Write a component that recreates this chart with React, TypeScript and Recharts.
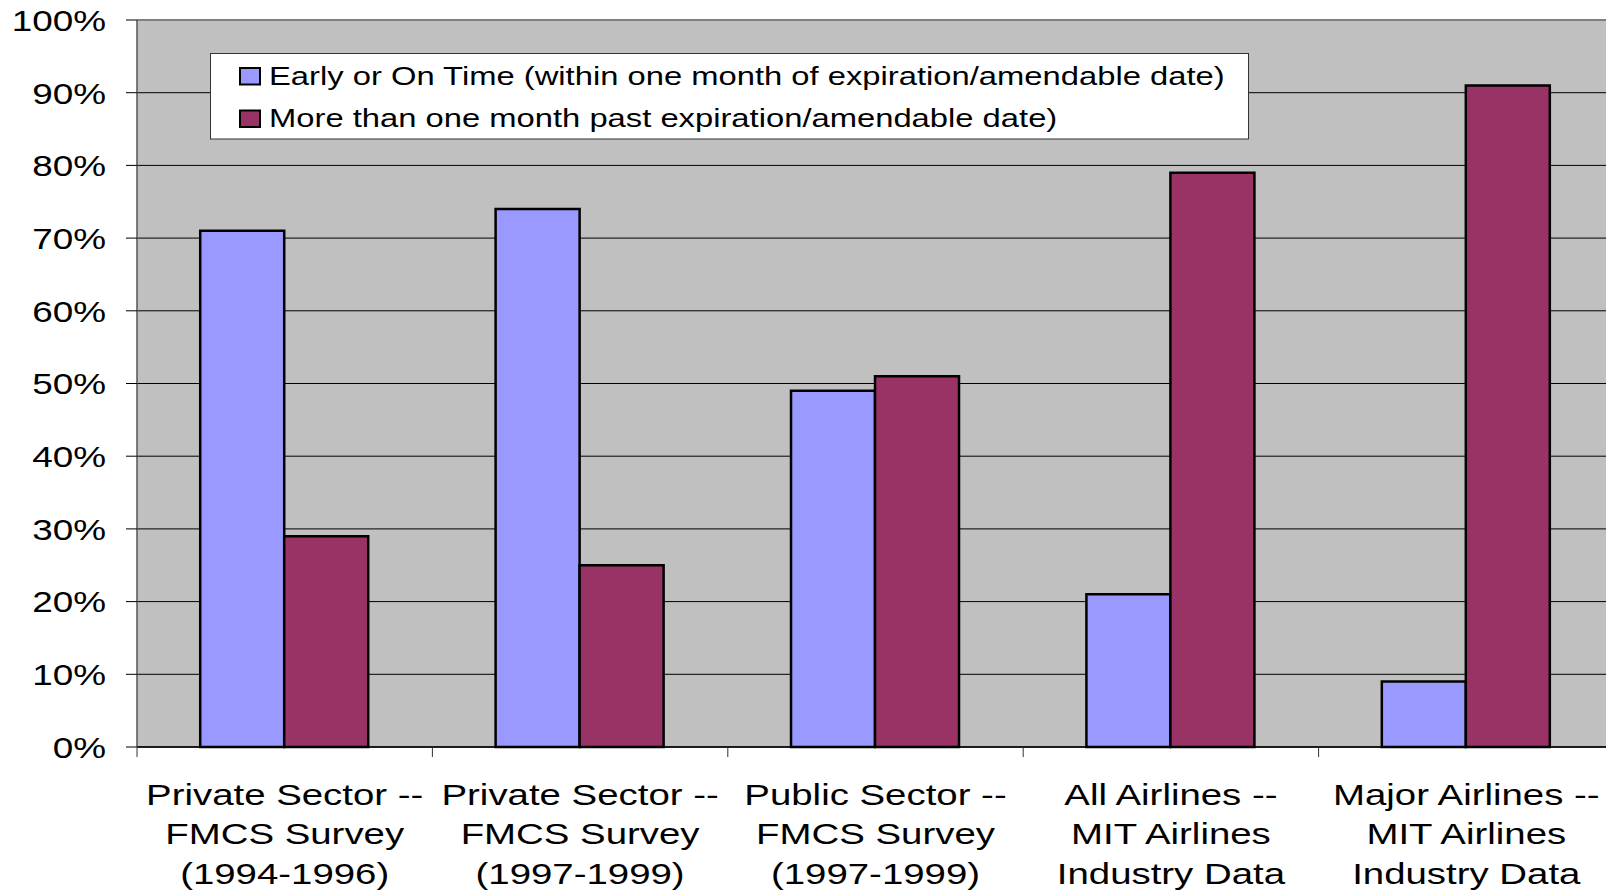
import React from "react";
import { BarChart, Bar, XAxis, YAxis, CartesianGrid, ReferenceLine } from "recharts";

// --- data ---
const categories = [
  "Private Sector --\nFMCS Survey\n(1994-1996)",
  "Private Sector --\nFMCS Survey\n(1997-1999)",
  "Public Sector --\nFMCS Survey\n(1997-1999)",
  "All Airlines --\nMIT Airlines\nIndustry Data",
  "Major Airlines --\nMIT Airlines\nIndustry Data",
];
const onTime = [71, 74, 49, 21, 9];
const pastDue = [29, 25, 51, 79, 91];
const seriesNames = [
  "Early or On Time (within one month of expiration/amendable date)",
  "More than one month past expiration/amendable date)",
];
const seriesColors = ["#9999FF", "#993366"];
const yTicks = [0, 10, 20, 30, 40, 50, 60, 70, 80, 90, 100];

const chartData = categories.map((name, i) => ({
  name,
  onTime: onTime[i],
  pastDue: pastDue[i],
}));

// --- layout ---
const FONT = "Arial, 'Liberation Sans', sans-serif";
// the source image text is stretched horizontally
const SX_Y = 1.23;
const SX_X = 1.28;
const SX_LEG = 1.26;
const TOP = 20;
const Y_AXIS_W = 137;
const X_AXIS_H = 147;
const CHART_W = 1614;
const CHART_H = 894;
const PLOT_W = CHART_W - Y_AXIS_W;
const AXIS_Y = CHART_H - X_AXIS_H;
const BAND = PLOT_W / categories.length;

function XTick(props: any) {
  const { x, payload } = props;
  const lines = String(payload.value).split("\n");
  const bx = x - BAND / 2;
  return (
    <g>
      <line x1={bx} x2={bx} y1={AXIS_Y} y2={AXIS_Y + 10} stroke="#333" strokeWidth={1} />
      <text
        transform={`translate(${x},${AXIS_Y}) scale(${SX_X},1)`}
        textAnchor="middle"
        fontSize={30}
        fontFamily={FONT}
        fill="#000"
      >
        {lines.map((l, i) => (
          <tspan key={i} x={0} y={58 + i * 39.5}>
            {l}
          </tspan>
        ))}
      </text>
    </g>
  );
}

function YTick(props: any) {
  const { x, y, payload } = props;
  return (
    <text
      transform={`translate(${x},${y}) scale(${SX_Y},1)`}
      textAnchor="end"
      dy="0.36em"
      fontSize={30}
      fontFamily={FONT}
      fill="#000"
    >
      {payload.value}%
    </text>
  );
}

function LegendBox() {
  return (
    <svg
      width={1606}
      height={894}
      style={{ position: "absolute", left: 0, top: 0, pointerEvents: "none" }}
    >
      <rect x={210.5} y={53.5} width={1038} height={85.5} fill="#fff" stroke="#333" strokeWidth={1} />
      {seriesNames.map((s, i) => (
        <g key={s}>
          <rect
            x={240}
            y={68 + i * 42.5}
            width={20}
            height={16.5}
            fill={seriesColors[i]}
            stroke="#000"
            strokeWidth={2}
          />
          <text
            transform={`translate(269,${84.5 + i * 42.5}) scale(${SX_LEG},1)`}
            fontSize={26}
            fontFamily={FONT}
            fill="#000"
          >
            {s}
          </text>
        </g>
      ))}
    </svg>
  );
}

export default function App() {
  return (
    <div
      style={{
        position: "absolute",
        left: 0,
        top: 0,
        width: 1606,
        height: 894,
        overflow: "hidden",
        background: "#fff",
      }}
    >
      <BarChart
        width={CHART_W}
        height={CHART_H}
        data={chartData}
        margin={{ top: TOP, right: 0, bottom: 0, left: 0 }}
        barCategoryGap="21.4%"
        barGap={0}
        style={{ fontFamily: FONT }}
      >
        <CartesianGrid vertical={false} stroke="#000" strokeWidth={1} fill="#C0C0C0" />
        <XAxis
          dataKey="name"
          height={X_AXIS_H}
          interval={0}
          tickLine={false}
          axisLine={{ stroke: "#000", strokeWidth: 1.5 }}
          tick={<XTick />}
        />
        <YAxis
          width={Y_AXIS_W}
          domain={[0, 100]}
          ticks={yTicks}
          interval={0}
          tickSize={11}
          tickMargin={20}
          tickLine={{ stroke: "#000" }}
          axisLine={{ stroke: "#555", strokeWidth: 1.5 }}
          tick={<YTick />}
        />
        <ReferenceLine y={100} stroke="#808080" strokeWidth={2} />
        <Bar
          dataKey="onTime"
          name={seriesNames[0]}
          fill={seriesColors[0]}
          stroke="#000"
          strokeWidth={2.5}
          isAnimationActive={false}
        />
        <Bar
          dataKey="pastDue"
          name={seriesNames[1]}
          fill={seriesColors[1]}
          stroke="#000"
          strokeWidth={2.5}
          isAnimationActive={false}
        />
      </BarChart>
      <LegendBox />
    </div>
  );
}
